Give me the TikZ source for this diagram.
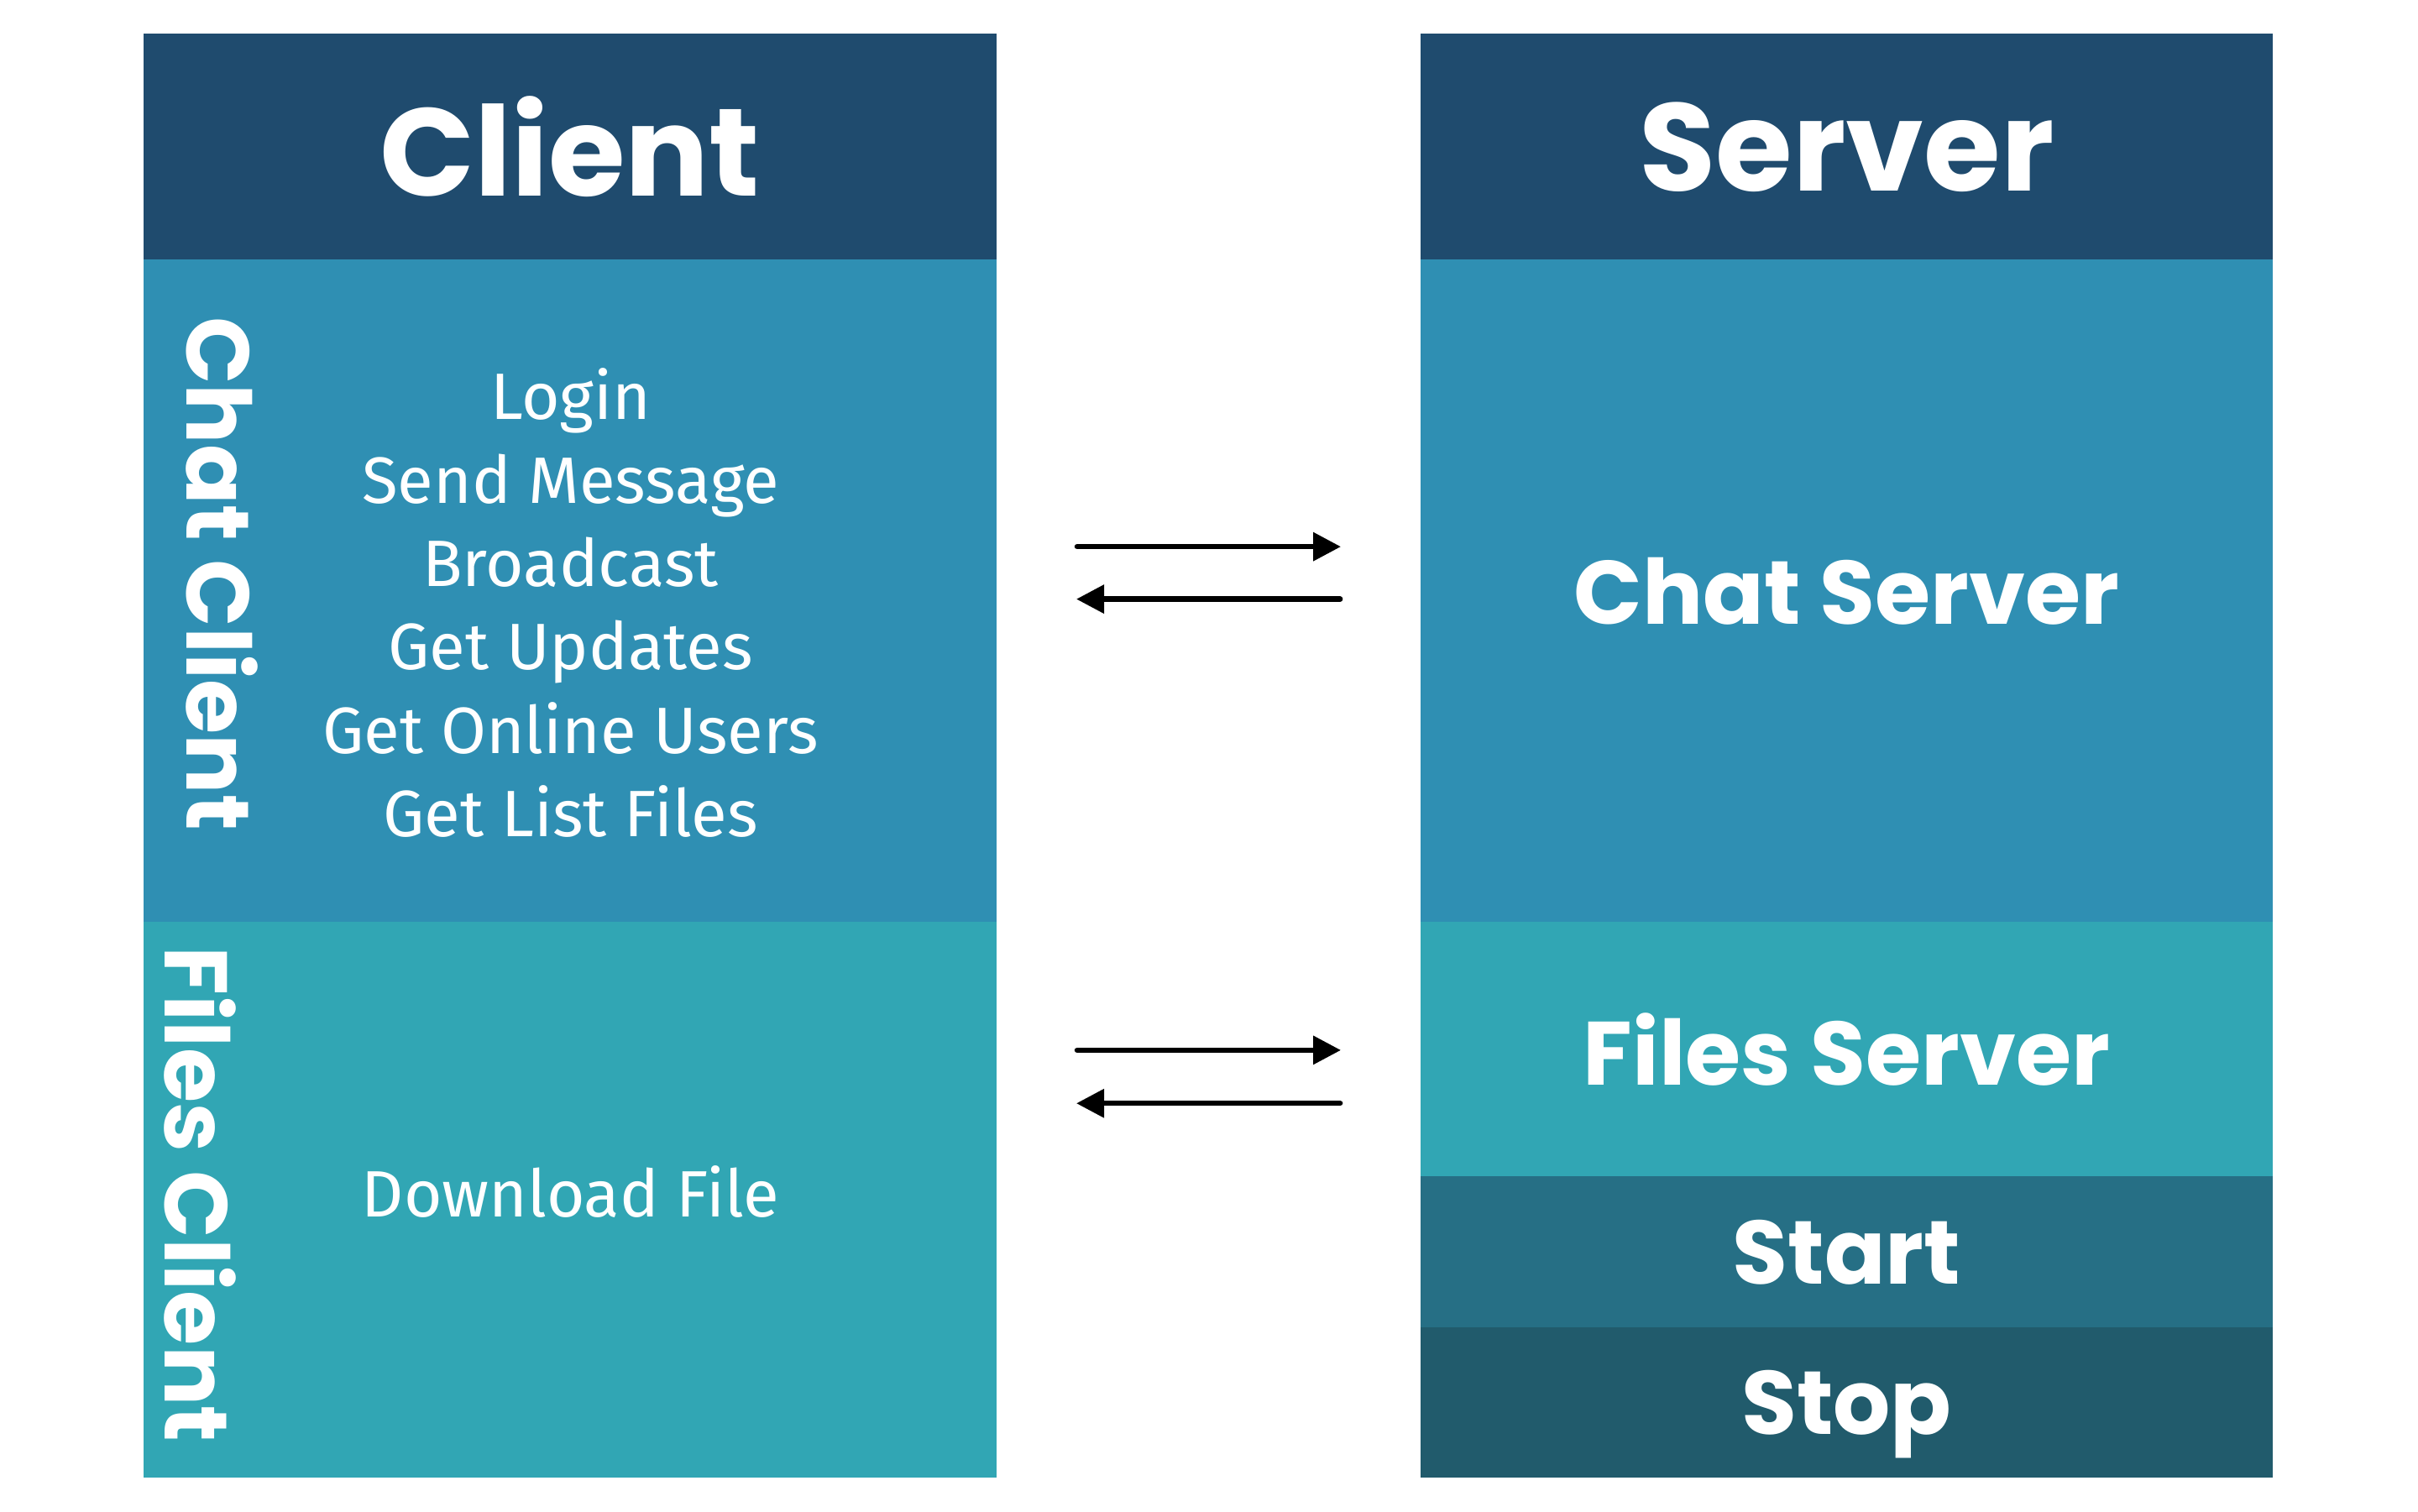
\documentclass[tikz,border=0pt]{standalone}
\usepackage{fontspec}
\setmainfont{Fira Sans}
\newfontfamily\headfont{Poppins}
\usetikzlibrary{arrows.meta,positioning}
\definecolor{headblue}{HTML}{1F4B6E}
\definecolor{chatblue}{HTML}{2F8FB3}
\definecolor{filesteal}{HTML}{31A6B4}
\definecolor{startteal}{HTML}{266F85}
\definecolor{stopteal}{HTML}{215B6C}

\begin{document}
\begin{tikzpicture}[>={Triangle[length=1.8mm,width=1.8mm]},node distance=0pt,
		box node/.style={rectangle,inner sep=0pt,outer sep=0pt,minimum width=5.53cm,text=white,text depth=0pt,font=\headfont\bfseries\fontsize{16.6}{20}\selectfont},
		head node/.style={box node,fill=headblue,minimum height=1.46cm,font=\headfont\bfseries\fontsize{23}{28}\selectfont},
		side node/.style={rotate=-90,inner sep=0pt,text=white,text depth=0pt,font=\headfont\bfseries\fontsize{16.4}{20}\selectfont},
		item node/.style={align=center,inner sep=0pt,text=white,font=\fontsize{12.1}{15.4}\selectfont},
		flow/.style={->,line width=1pt,line cap=round}]
	\useasboundingbox (0,0) rectangle (15.68,-9.80);

	% client side
	\node[head node,anchor=north west] (client) at (0.93,-0.22) {Client};
	\node[box node,fill=chatblue,minimum height=4.30cm,below=of client] (chatc) {};
	\node[box node,fill=filesteal,minimum height=3.60cm,below=of chatc] (filesc) {};
	\node[side node] (chatlbl) at (1.44,-3.72) {Chat Client};
	\node[side node] (fileslbl) at (1.30,-7.745) {Files Client};
	\node[item node] (chatops) at (3.70,-3.91) {Login\\Send Message\\Broadcast\\Get Updates\\Get Online Users\\Get List Files};
	\node[item node] (filesops) at (3.70,-7.73) {Download File};

	% server side
	\node[head node,right=2.75cm of client] (server) {Server};
	\node[box node,fill=chatblue,minimum height=4.30cm,below=of server] (chats) {Chat Server};
	\node[box node,fill=filesteal,minimum height=1.65cm,below=of chats] (filess) {Files Server};
	\node[box node,fill=startteal,minimum height=0.98cm,below=of filess] (start) {Start};
	\node[box node,fill=stopteal,minimum height=0.97cm,below=of start] (stop) {Stop};

	% requests and replies
	\coordinate (chatup) at ([yshift=2.85mm]chats.west);
	\coordinate (chatdn) at ([yshift=-0.55mm]chats.west);
	\coordinate (filesup) at ([yshift=-0.05mm]filess.west);
	\coordinate (filesdn) at ([yshift=-3.5mm]filess.west);
	\draw[flow,shorten <=5.25mm,shorten >=5.15mm] (chatc.east |- chatup) -- (chatup);
	\draw[flow,shorten <=5.2mm,shorten >=5.2mm] (chatdn) -- (chatc.east |- chatdn);
	\draw[flow,shorten <=5.25mm,shorten >=5.15mm] (filesc.east |- filesup) -- (filesup);
	\draw[flow,shorten <=5.2mm,shorten >=5.2mm] (filesdn) -- (filesc.east |- filesdn);
\end{tikzpicture}
\end{document}
